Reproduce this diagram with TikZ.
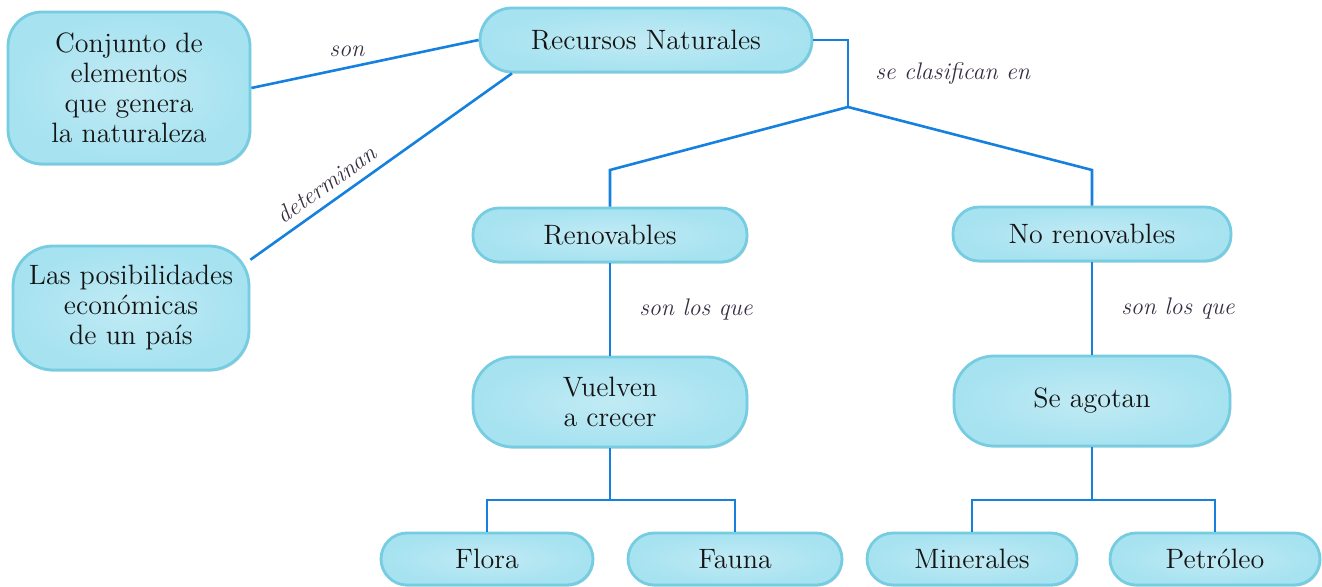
\documentclass[tikz,border=0pt]{standalone}
\usepackage{xcolor}
\usepackage{tikz}
\usetikzlibrary{calc, positioning, shadows}

\definecolor{fillcyan}{RGB}{166,226,240}
\definecolor{edgecyan}{RGB}{118,204,224}
\definecolor{linkblue}{RGB}{22,128,222}
\definecolor{tagtext}{RGB}{55,45,65}

\begin{document}
\begin{tikzpicture}[x=0.5pt,y=-0.5pt,
                    concept/.style={draw=edgecyan,line width=1.4pt,inner color=fillcyan!70!white,outer color=fillcyan,
                      rounded corners=13pt,align=center,inner sep=0pt,text=black!92,
                      font=\fontsize{14}{15}\selectfont,
                      drop shadow={shadow xshift=0.6pt,shadow yshift=-0.8pt,fill=edgecyan!70!black,opacity=0.35}},
                    link/.style={draw=linkblue,line width=1.3pt},
                    tag/.style={font=\itshape\fontsize{12}{14}\selectfont,text=tagtext,inner sep=2pt}]

  \useasboundingbox (0,0) rectangle (1322,587);

  % top row
  \node[concept,minimum width=166pt,minimum height=32pt,rounded corners=16pt] (rn) at (646,40) {Recursos Naturales};
  \node[concept,minimum width=121pt,minimum height=76pt,rounded corners=17pt] (conj) at (129,88)
    {Conjunto de\\elementos\\que genera\\la naturaleza};
  \node[concept,minimum width=118pt,minimum height=62pt,rounded corners=20pt] (econ) at (131,308)
    {Las posibilidades\\económicas\\de un país};

  % classes
  \node[concept,minimum width=137pt,minimum height=27pt] (ren) at (610,235) {Renovables};
  \node[concept,minimum width=139pt,minimum height=27pt] (noren) at (1092,234) {No renovables};
  \node[concept,minimum width=137pt,minimum height=45pt,rounded corners=20pt] (vuel) [below of=ren,node distance=83.5pt]
    {Vuelven\\a crecer};
  \node[concept,minimum width=138pt,minimum height=45pt,rounded corners=20pt] (ago) [below of=noren,node distance=83.5pt]
    {Se agotan};

  % leaves
  \node[concept,minimum width=106pt,minimum height=26pt] (flora) at (487,559) {Flora};
  \node[concept,minimum width=107pt,minimum height=26pt] (fauna) at (735,559) {Fauna};
  \node[concept,minimum width=105pt,minimum height=26pt] (mine) at (972,559) {Minerales};
  \node[concept,minimum width=105pt,minimum height=26pt] (petro) at (1215,559) {Petróleo};

  \coordinate (fk) at (848,107);
  \coordinate (lvl) at (0,170);
  \coordinate (bar) at (0,500);

  \draw[link] (conj.east) -- node[tag,pos=0.42,above,yshift=3pt] {son} (rn.west);
  \draw[link] (econ.22) -- node[tag,pos=0.33,above,sloped,yshift=2pt] {determinan} (rn.194);

  \draw[link] (rn.east) -| node[tag,pos=0.75,right,xshift=11pt] {se clasifican en} (fk);
  \draw[link] (ren.north) -- (ren.north |- lvl) -- (fk) -- (noren.north |- lvl) -- (noren.north);

  \draw[link] (ren) -- node[tag,right,xshift=12pt] {son los que} (vuel);
  \draw[link] (noren) -- node[tag,right,xshift=12pt] {son los que} (ago);

  \draw[link] (flora.north) |- (vuel.south |- bar) -| (fauna.north)
              (vuel.south) -- (vuel.south |- bar);
  \draw[link] (mine.north) |- (ago.south |- bar) -| (petro.north)
              (ago.south) -- (ago.south |- bar);
\end{tikzpicture}
\end{document}
